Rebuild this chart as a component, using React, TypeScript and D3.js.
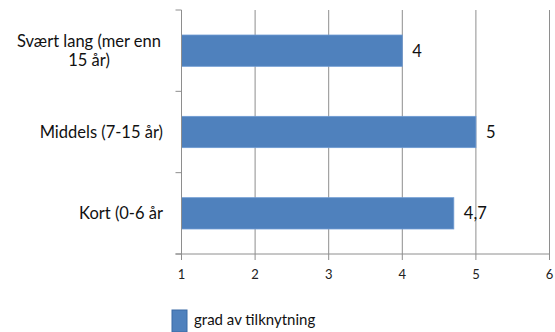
import React from "react";
import * as d3 from "d3";

const categories = ["Svært lang (mer enn 15 år)", "Middels (7-15 år)", "Kort (0-6 år"];
const categoryLines = [["Svært lang (mer enn", "15 år)"], ["Middels (7-15 år)"], ["Kort (0-6 år"]];
const values = [4, 5, 4.7];
const valueLabels = ["4", "5", "4,7"];
const xTicks = [1, 2, 3, 4, 5, 6];
const seriesName = "grad av tilknytning";

const W = 555, H = 332;
const left = 181.5, right = 549.5, top = 10, bottom = 254;
const FONT = "Lato, 'Open Sans', sans-serif";

export default function App() {
  const x = d3.scaleLinear().domain([1, 6]).range([left, right]);
  const y = d3.scaleBand<string>().domain(categories).range([top, bottom]).paddingInner(0.615).paddingOuter(0.3075);
  const bandStep = (bottom - top) / categories.length;
  return (
    <svg width={W} height={H} style={{ position: "absolute", left: 0, top: 0 }} fontFamily={FONT}>
      <rect width={W} height={H} fill="#fff" />
      {xTicks.slice(1).map((t) => (
        <line key={t} x1={x(t)} x2={x(t)} y1={top} y2={bottom} stroke="#8e8e8e" strokeWidth={1} />
      ))}
      {categories.map((c, i) => (
        <rect key={c} x={x(1)} y={y(c)} width={x(values[i]) - x(1)} height={y.bandwidth()} fill="#4F81BD" stroke="#6f9bd3" strokeWidth={0.8} />
      ))}
      <line x1={left} x2={left} y1={top} y2={bottom} stroke="#8e8e8e" />
      <line x1={left - 6} x2={right} y1={bottom} y2={bottom} stroke="#8e8e8e" />
      {d3.range(categories.length + 1).map((i) => (
        <line key={i} x1={left - 6} x2={left} y1={top + i * bandStep} y2={top + i * bandStep} stroke="#8e8e8e" />
      ))}
      {xTicks.map((t) => (
        <g key={t}>
          <line x1={x(t)} x2={x(t)} y1={bottom} y2={bottom + 6} stroke="#8e8e8e" />
          <text x={x(t)} y={279} textAnchor="middle" fontSize={13} fill="#222">{t}</text>
        </g>
      ))}
      {categories.map((c, i) => {
        const lines = categoryLines[i];
        const cy = (y(c) as number) + y.bandwidth() / 2;
        const lh = 19;
        return (
          <text key={c} textAnchor="middle" fontSize={16.5} fill="#111">
            {lines.map((l, j) => (
              <tspan key={j} x={lines.length > 1 ? 89 : 163} textAnchor={lines.length > 1 ? "middle" : "end"} y={cy + 5.5 + (j - (lines.length - 1) / 2) * lh}>{l}</tspan>
            ))}
          </text>
        );
      })}
      {categories.map((c, i) => (
        <text key={c} x={x(values[i]) + 10} y={(y(c) as number) + y.bandwidth() / 2 + 6} fontSize={16.5} fill="#111">{valueLabels[i]}</text>
      ))}
      <rect x={172} y={310} width={15} height={22} fill="#4F81BD" stroke="#3a6aa5" strokeWidth={1} />
      <text x={194} y={325} fontSize={15} fill="#111">{seriesName}</text>
    </svg>
  );
}
